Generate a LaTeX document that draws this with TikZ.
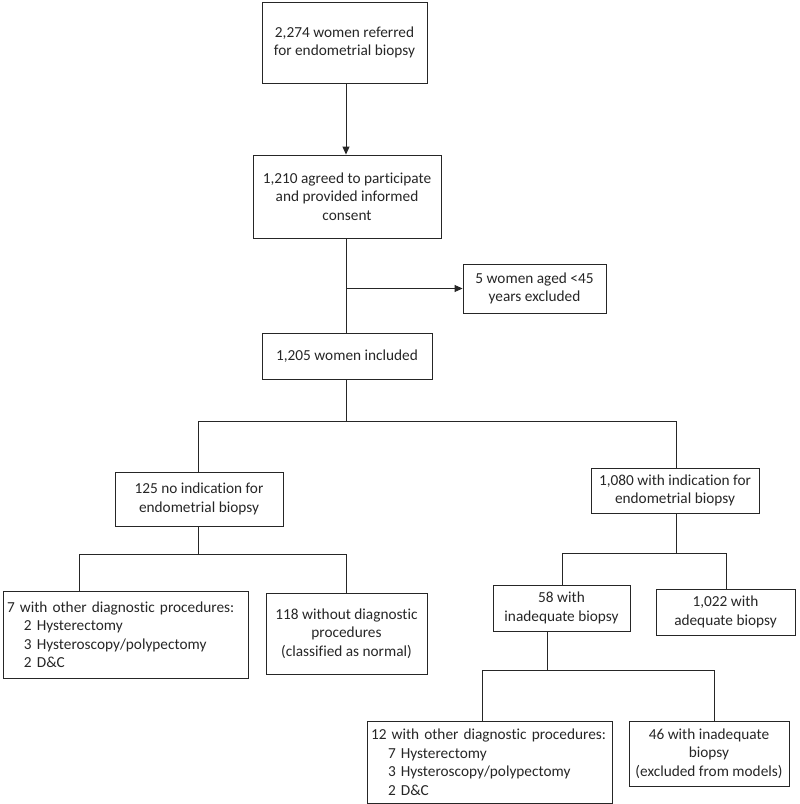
\documentclass[tikz,border=0pt]{standalone}
\usepackage{fontspec}
\setmainfont[RawFeature=-liga]{Carlito}
\usetikzlibrary{arrows.meta}
\begin{document}
\begin{tikzpicture}[x=1pt,y=-1pt,
  box/.style={draw=black!85, line width=0.9pt, align=center, inner sep=2pt,
    font=\fontsize{15.3}{18.5}\selectfont, text=black!85},
  conn/.style={draw=black!85, line width=0.9pt},
  arr/.style={conn, -{Triangle[length=8pt,width=7pt]}}]
\useasboundingbox (0,0) rectangle (800,804);
\node[box, minimum width=165pt, minimum height=81pt] (b1) at (344.5,42.5) {2,274 women referred\\for endometrial biopsy};
\node[box, minimum width=188pt, minimum height=83pt] (b2) at (347,196.5) {1,210 agreed to participate\\and provided informed\\consent};
\node[box, minimum width=143pt, minimum height=49pt] (b4) at (534.5,288.5) {5 women aged <45\\years excluded};
\node[box, minimum width=170pt, minimum height=46pt] (b3) at (347,356) {1,205 women included};
\node[box, minimum width=168pt, minimum height=54pt] (b5) at (199,499) {125 no indication for\\endometrial biopsy};
\node[box, minimum width=168pt, minimum height=45pt] (b6) at (675,490.5) {1,080 with indication for\\endometrial biopsy};
\node[box, minimum width=245pt, minimum height=87pt, align=left, text width=237pt] (b7) at (125.5,634.5) {7 with other diagnostic procedures:\\\hspace*{17pt}2 Hysterectomy\\\hspace*{17pt}3 Hysteroscopy/polypectomy\\\hspace*{17pt}2 D\&C};
\node[box, minimum width=161pt, minimum height=81pt] (b8) at (346.5,633.5) {118 without diagnostic\\procedures\\(classified as normal)};
\node[box, minimum width=137pt, minimum height=46pt] (b9) at (561.5,608) {58 with\\inadequate biopsy};
\node[box, minimum width=139pt, minimum height=46pt] (b10) at (725.5,612) {1,022 with\\adequate biopsy};
\node[box, minimum width=245pt, minimum height=82pt, align=left, text width=237pt] (b11) at (489.5,762) {12 with other diagnostic procedures:\\\hspace*{17pt}7 Hysterectomy\\\hspace*{17pt}3 Hysteroscopy/polypectomy\\\hspace*{17pt}2 D\&C};
\node[box, minimum width=160pt, minimum height=65pt] (b12) at (709,753.5) {46 with inadequate\\biopsy\\(excluded from models)};
% junctions
\coordinate (t1) at (346,0);
\coordinate (j1) at (b4.west -| t1);
\coordinate (j2) at (346,421);
\coordinate (l2) at (198,421);
\coordinate (r2) at (676,421);
\coordinate (j3) at (198,554);
\coordinate (l3) at (79,554);
\coordinate (r3) at (346,554);
\coordinate (j4) at (676,553);
\coordinate (l4) at (562,553);
\coordinate (r4) at (726,553);
\coordinate (j5) at (547,670);
\coordinate (l5) at (482,670);
\coordinate (r5) at (714,670);
% connectors
\draw[arr] (b1.south -| t1) -- (b2.north -| t1);
\draw[conn] (b2.south -| t1) -- (b3.north -| t1);
\draw[arr] (j1) -- (b4.west);
\draw[conn] (b3.south -| t1) -- (j2);
\draw[conn] (b5.north -| l2) -- (l2) -- (r2) -- (b6.north -| r2);
\draw[conn] (b5.south -| j3) -- (j3);
\draw[conn] (b7.north -| l3) -- (l3) -- (r3) -- (b8.north -| r3);
\draw[conn] (b6.south -| j4) -- (j4);
\draw[conn] (b9.north -| l4) -- (l4) -- (r4) -- (b10.north -| r4);
\draw[conn] (b9.south -| j5) -- (j5);
\draw[conn] (b11.north -| l5) -- (l5) -- (r5) -- (b12.north -| r5);
\end{tikzpicture}
\end{document}
